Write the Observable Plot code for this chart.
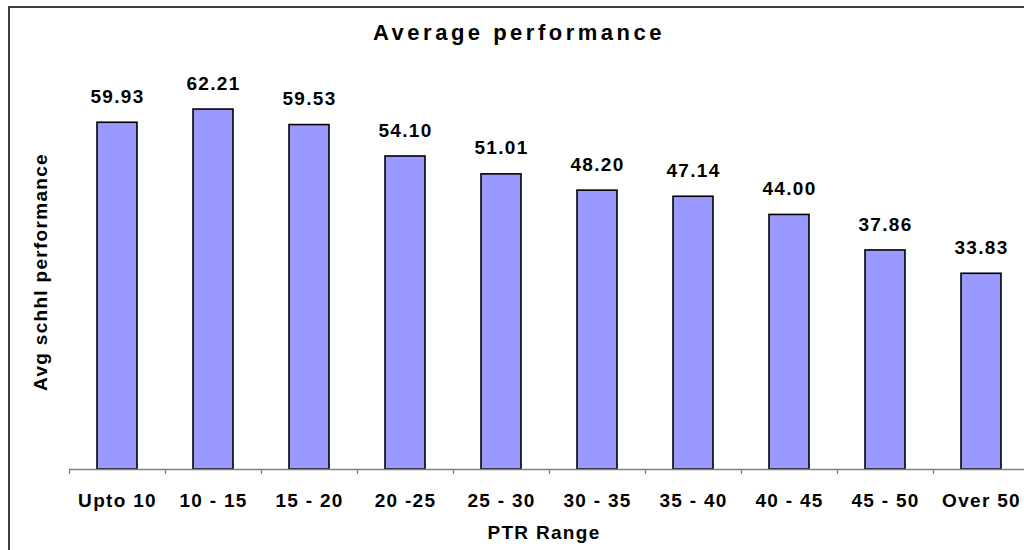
<!DOCTYPE html>
<html>
<head>
<meta charset="utf-8">
<script src="https://cdn.jsdelivr.net/npm/d3@7"></script>
<script src="https://cdn.jsdelivr.net/npm/@observablehq/plot@0.6"></script>
<style>
  html, body { margin: 0; padding: 0; background: #fff; }
  #chart {
    position: relative;
    width: 1024px;
    height: 550px;
    overflow: hidden;
    font-family: "Liberation Sans", Arial, sans-serif;
  }
  #frame {
    position: absolute;
    left: 8px;
    top: 6px;
    width: 1100px;
    height: 600px;
    border: 2px solid #404040;
    pointer-events: none;
  }
  #title {
    height: 56px;
    line-height: 56px;
    width: 1038px;
    text-align: center;
    font-weight: bold;
    font-size: 22px;
    letter-spacing: 3.5px;
    padding-top: 5px;
    box-sizing: border-box;
    color: #000;
  }
  #chart svg text { letter-spacing: 1.3px; }
</style>
</head>
<body>
<div id="chart">
  <div id="title">Average performance</div>
  <div id="frame"></div>
</div>
<script>
// PTR ranges and the average school performance in each
const ranges = ["Upto 10", "10 - 15", "15 - 20", "20 -25", "25 - 30", "30 - 35", "35 - 40", "40 - 45", "45 - 50", "Over 50"];
const performance = [59.93, 62.21, 59.53, 54.10, 51.01, 48.20, 47.14, 44.00, 37.86, 33.83];

const yTitle = "Avg schhl performance";
const xTitle = "PTR Range";

const rows = ranges.map((r, i) => ({range: r, value: performance[i]}));

const plot = Plot.plot({
  width: 1024,
  height: 494,
  marginTop: 8,
  marginBottom: 81,
  marginLeft: 69,
  marginRight: 0,
  style: {
    fontFamily: "'Liberation Sans', Arial, sans-serif",
    fontSize: "19px",
    fontWeight: "bold",
    color: "#000",
    background: "transparent"
  },
  x: {domain: ranges, range: [69, 1029], paddingInner: 0.58, paddingOuter: 0.29, axis: null},
  y: {domain: [0, 70], axis: null},
  marks: [
    Plot.barY(rows, {x: "range", y: "value", fill: "#9999FF", stroke: "#000", strokeWidth: 1.6}),
    Plot.ruleY([0], {stroke: "#808080", strokeWidth: 1.6}),
    // small ticks marking the boundaries between ranges
    Plot.ruleX(ranges, {x: d => d, dx: -48, insetTop: 405, insetBottom: -5, stroke: "#808080", strokeWidth: 1.3}),
    Plot.text(rows, {x: "range", y: "value", text: d => d.value.toFixed(2), dy: -26, lineAnchor: "middle", fontSize: 19, fontWeight: "bold", fill: "#000"}),
    Plot.text(ranges, {x: d => d, frameAnchor: "bottom", dy: 31, lineAnchor: "middle", fontSize: 19, fontWeight: "bold", fill: "#000"}),
    Plot.text([xTitle], {frameAnchor: "bottom", dx: -3, dy: 63, lineAnchor: "middle", fontSize: 19, fontWeight: "bold", fill: "#000"}),
    Plot.text([yTitle], {frameAnchor: "left", textAnchor: "middle", rotate: -90, dx: -29, dy: 5, lineAnchor: "middle", fontSize: 19, fontWeight: "bold", fill: "#000"})
  ]
});

document.getElementById("chart").insertBefore(plot, document.getElementById("frame"));
</script>
</body>
</html>
